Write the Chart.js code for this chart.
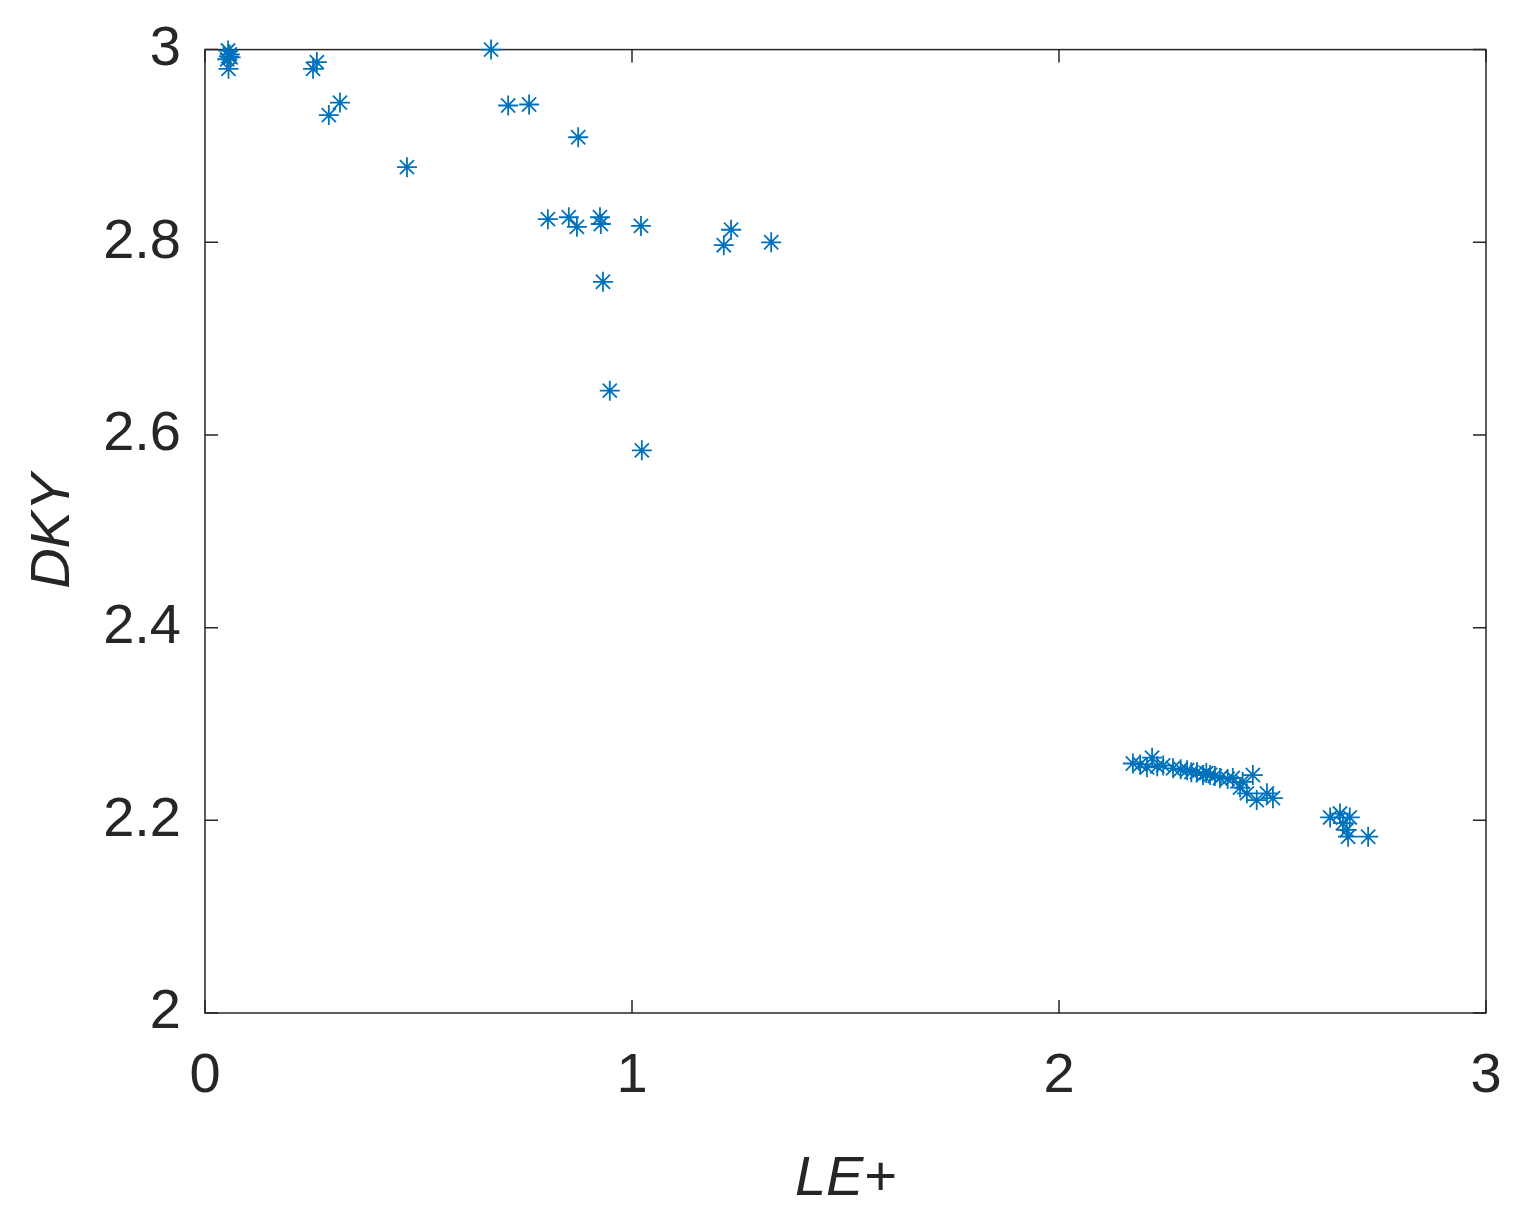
<!DOCTYPE html>
<html><head><meta charset="utf-8">
<script src="https://cdn.jsdelivr.net/npm/chart.js@4"></script>
<style>html,body{margin:0;padding:0;background:#fff}#c{display:block}</style>
</head><body>
<canvas id="c" width="1530" height="1217"></canvas>
<script>
const xValues = [0.054,0.056,0.052,0.058,0.055,0.060,0.253,0.262,0.290,0.316,0.473,0.670,0.710,0.759,0.874,0.803,0.852,0.871,0.925,0.927,1.021,0.932,0.948,1.023,1.215,1.232,1.326,
 2.173,2.218,2.206,2.244,2.267,2.300,2.323,2.337,2.354,2.377,2.407,2.454,2.424,2.440,2.463,2.487,2.501,2.190,2.230,2.285,2.310,2.345,2.365,2.395,2.430,
 2.635,2.658,2.681,2.665,2.674,2.677,2.724];
const yValues = [2.999,2.993,2.990,2.995,2.980,2.992,2.980,2.987,2.932,2.945,2.878,3.000,2.942,2.943,2.909,2.824,2.826,2.816,2.826,2.819,2.817,2.759,2.646,2.584,2.797,2.813,2.800,
 2.259,2.265,2.255,2.257,2.254,2.252,2.250,2.247,2.247,2.244,2.244,2.247,2.234,2.228,2.221,2.228,2.223,2.258,2.256,2.253,2.250,2.249,2.246,2.243,2.240,
 2.203,2.207,2.203,2.197,2.190,2.183,2.183];
const xTicks = [0,1,2,3];
const yTicks = [2,2.2,2.4,2.6,2.8,3];
const pts = xValues.map((x,i)=>({x, y:yValues[i]}));
const frame = {
  id:'frame',
  beforeDatasetsDraw(c){
    const {ctx, chartArea:a, scales:{x,y}} = c;
    ctx.save();
    ctx.strokeStyle='#262626'; ctx.lineWidth=1.5;
    ctx.strokeRect(a.left,a.top,a.right-a.left,a.bottom-a.top);
    const L=13;
    ctx.beginPath();
    xTicks.forEach(v=>{const p=x.getPixelForValue(v);ctx.moveTo(p,a.bottom);ctx.lineTo(p,a.bottom-L);ctx.moveTo(p,a.top);ctx.lineTo(p,a.top+L);});
    yTicks.forEach(v=>{const p=y.getPixelForValue(v);ctx.moveTo(a.left,p);ctx.lineTo(a.left+L,p);ctx.moveTo(a.right,p);ctx.lineTo(a.right-L,p);});
    ctx.stroke(); ctx.restore();
  }
};
new Chart(document.getElementById('c'),{
  type:'scatter',
  data:{datasets:[{data:pts, pointStyle:'star', radius:10, borderColor:'#0072BD', backgroundColor:'#0072BD', borderWidth:1.8, clip:false}]},
  options:{
    responsive:false, animation:false,
    layout:{padding:{top:49,right:44,left:0,bottom:0}},
    plugins:{legend:{display:false},tooltip:{enabled:false}},
    scales:{
      x:{type:'linear',min:0,max:3,
        afterBuildTicks(s){s.ticks=xTicks.map(v=>({value:v}));},
        afterFit(s){s.height=204;},
        grid:{display:false}, border:{display:false},
        ticks:{color:'#262626',font:{family:'Liberation Sans',size:56},padding:22},
        title:{display:true,text:'LE+',color:'#262626',font:{family:'Liberation Sans',size:56,style:'italic'},padding:{top:-6}}},
      y:{type:'linear',min:2,max:3,
        afterBuildTicks(s){s.ticks=yTicks.map(v=>({value:v}));},
        afterFit(s){s.width=205;},
        grid:{display:false}, border:{display:false},
        ticks:{color:'#262626',font:{family:'Liberation Sans',size:56},padding:16,callback:v=>String(v)},
        title:{display:true,text:'DKY',color:'#262626',font:{family:'Liberation Sans',size:56,style:'italic'},padding:{top:20,bottom:10}}}
    }
  },
  plugins:[frame]
});
</script>
</body></html>
